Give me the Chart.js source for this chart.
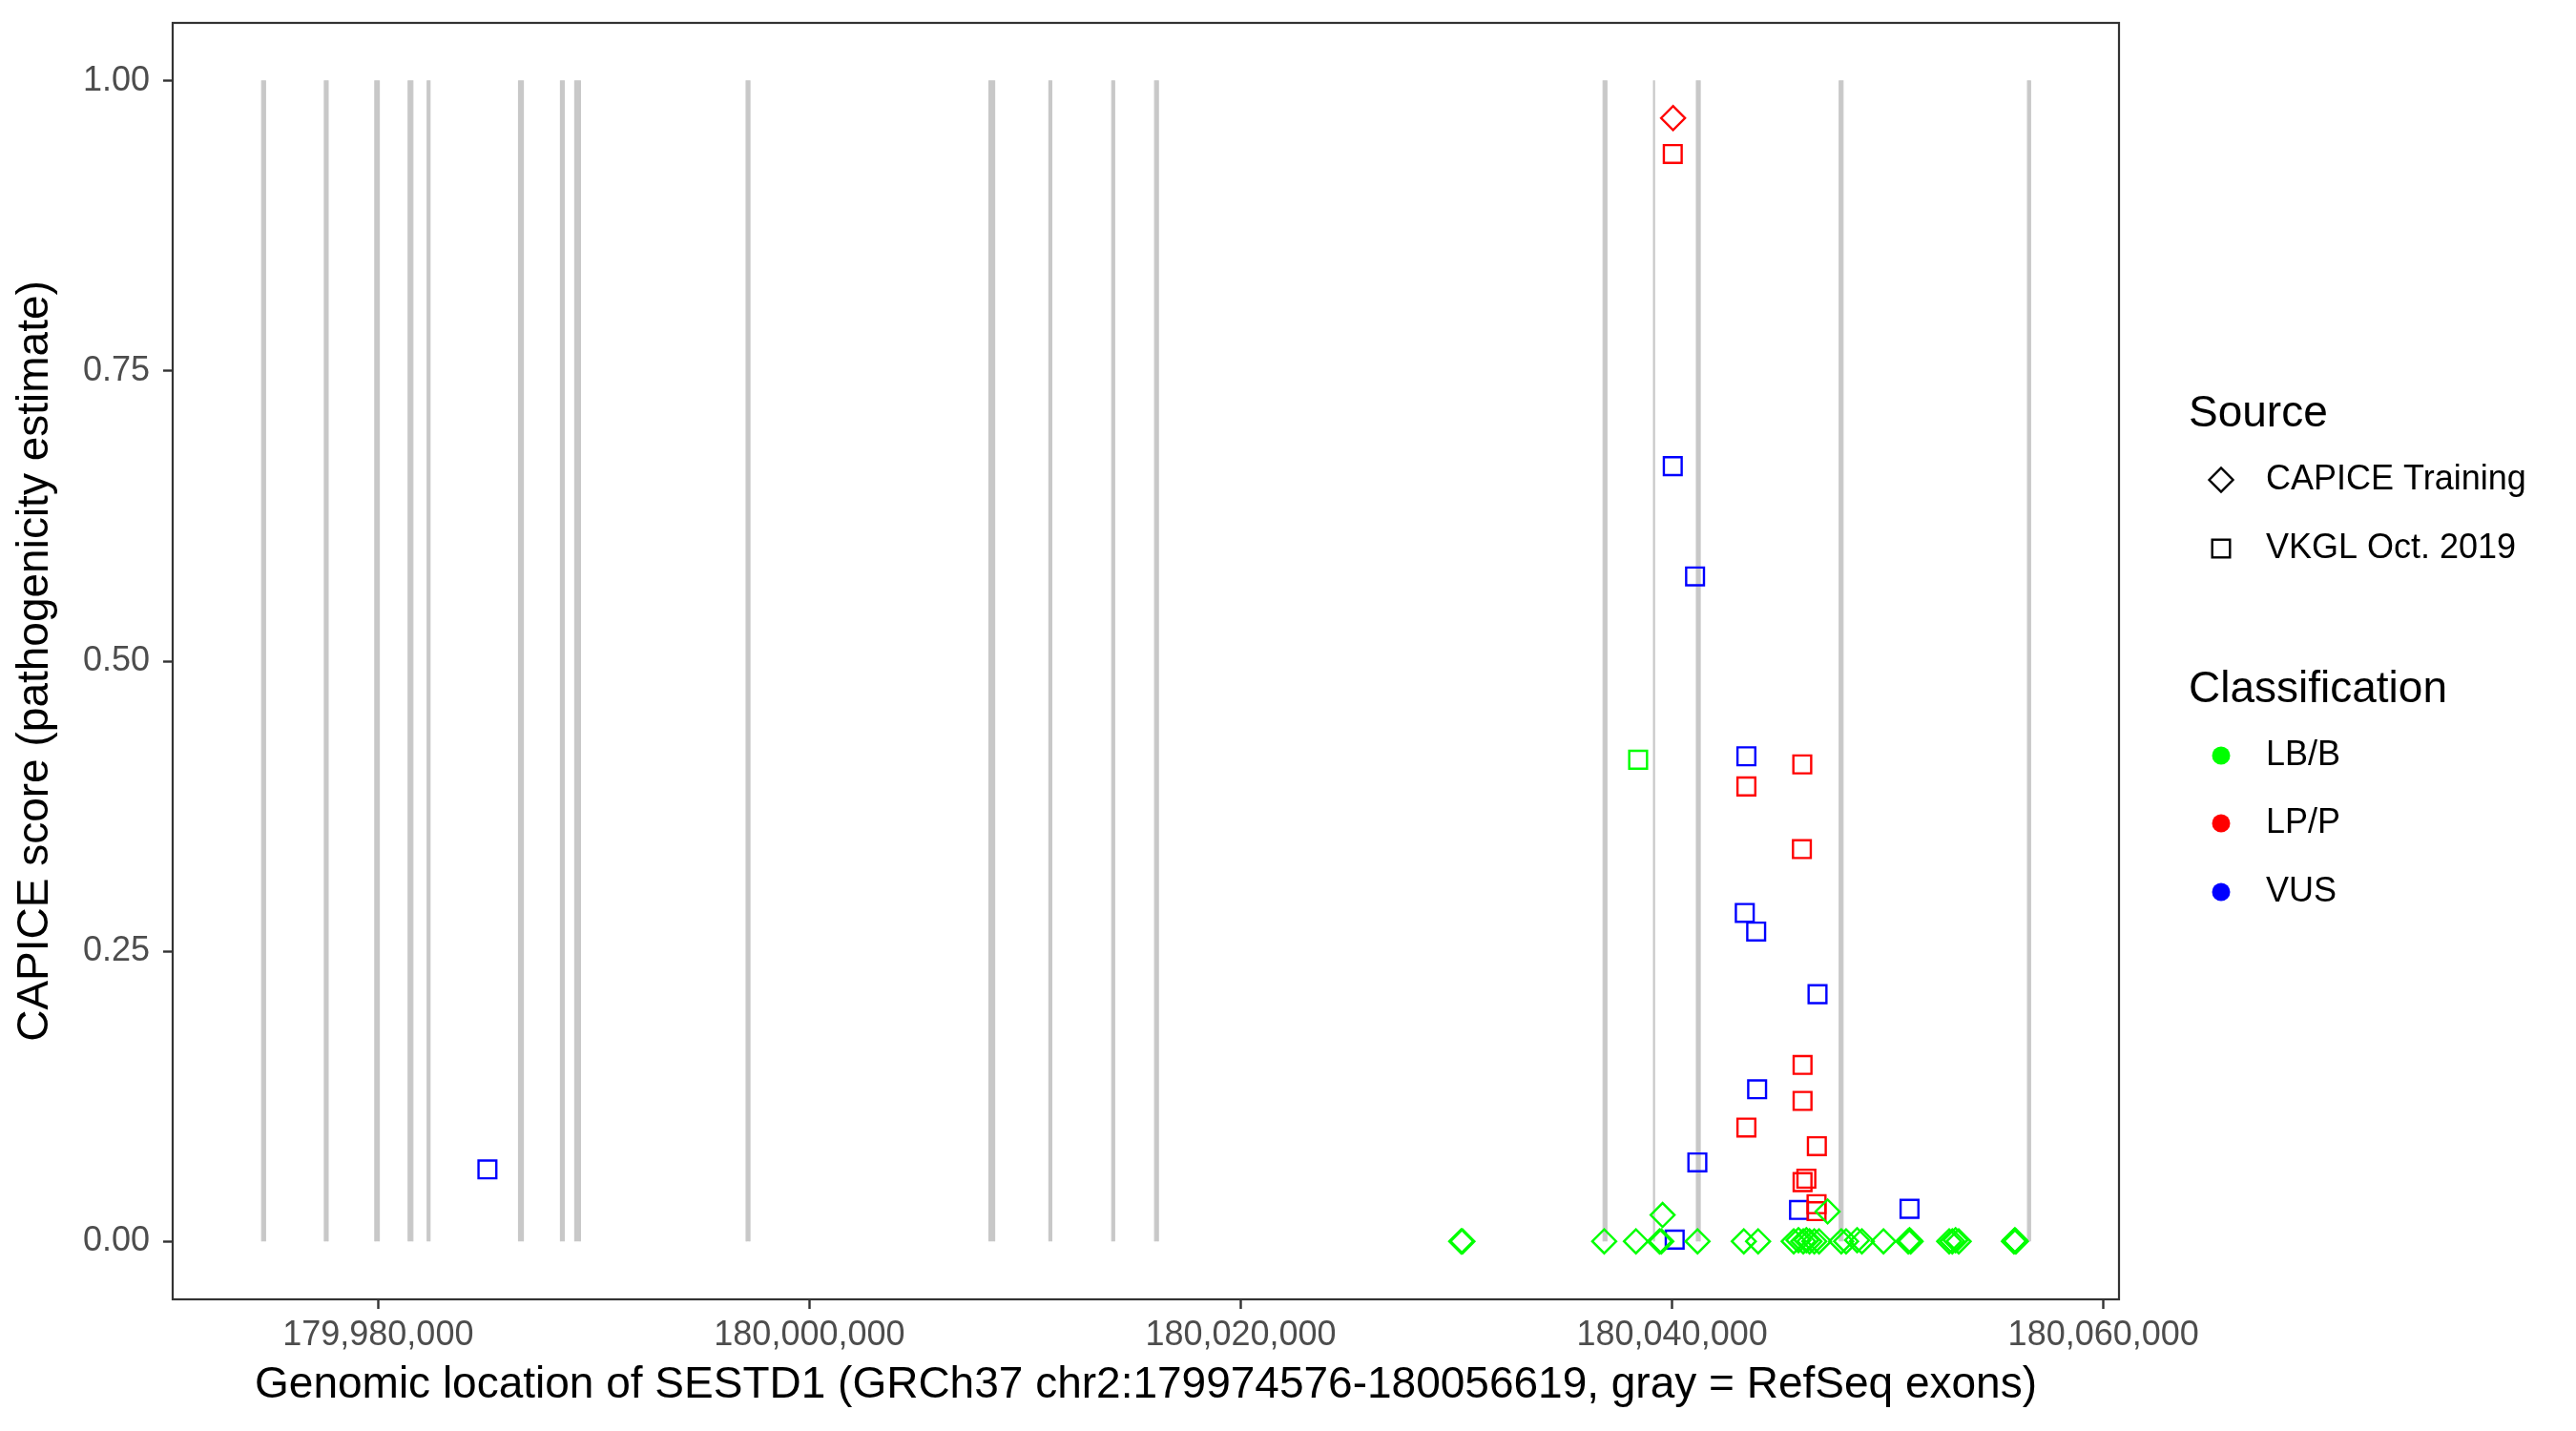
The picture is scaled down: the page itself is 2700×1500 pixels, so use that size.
<!DOCTYPE html>
<html>
<head>
<meta charset="utf-8">
<script src="https://cdn.jsdelivr.net/npm/chart.js@4.4.1/dist/chart.umd.min.js"></script>
<style>
html, body { margin: 0; padding: 0; background: #ffffff; }
#c { display: block; }
</style>
</head>
<body>
<canvas id="c" width="2700" height="1500" style="width:2700px;height:1500px"></canvas>
<script>
// ---------------- DATA ----------------
const xTickValues = [179980000, 180000000, 180020000, 180040000, 180060000];
const yTickValues = [0, 0.25, 0.5, 0.75, 1];

const xTitle = 'Genomic location of SESTD1 (GRCh37 chr2:179974576-180056619, gray = RefSeq exons)';
const yTitle = 'CAPICE score (pathogenicity estimate)';

const sourceTitle = 'Source';
const sourceLabels = ['CAPICE Training', 'VKGL Oct. 2019'];
const classTitle = 'Classification';
const classLabels = ['LB/B', 'LP/P', 'VUS'];

// RefSeq exons (start, end)
const exonStart = [179974600, 179977506, 179979845, 179981391, 179982274, 179986512, 179988455, 179989117, 179997064,
                   180008322, 180011104, 180014018, 180016004, 180036799, 180039139, 180041126, 180047748, 180056480];
const exonEnd   = [179974780, 179977682, 179980053, 179981611, 179982406, 179986733, 179988631, 179989382, 179997241,
                   180008587, 180011236, 180014150, 180016181, 180036976, 180039183, 180041302, 180047925, 180056619];

// CAPICE Training, LB/B
const capiceLBPos = [180030220, 180030280, 180036852, 180038322, 180039420, 180039500, 180041179, 180043324, 180043987,
                     180045638, 180045859, 180046080, 180046225, 180046371, 180046592, 180046812,
                     180047845, 180048066, 180048578, 180048799, 180049801, 180050950, 180051007, 180051060,
                     180052848, 180052993, 180053143, 180053289, 180055850, 180055894, 180055940,
                     180039558, 180047210];
const capiceLBScore = [0, 0, 0, 0, 0, 0, 0, 0, 0,
                       0, 0.001, 0, 0.001, 0, 0, 0,
                       0, 0, 0.001, 0, 0, 0, 0.001, 0,
                       0, 0, 0.001, 0, 0, 0.001, 0,
                       0.0227, 0.0257];
// CAPICE Training, LP/P
const capiceLPPos = [180040044];
const capiceLPScore = [0.968];
// VKGL, LB/B
const vkglLBPos = [180038424];
const vkglLBScore = [0.415];
// VKGL, LP/P
const vkglLPPos = [180040030, 180046035, 180043444, 180046017, 180046048, 180046048, 180043444, 180046711,
                   180046048, 180046225, 180046697, 180046697];
const vkglLPScore = [0.937, 0.411, 0.392, 0.338, 0.152, 0.121, 0.098, 0.082,
                     0.051, 0.054, 0.032, 0.026];
// VKGL, VUS
const vkglVUSPos = [179985068, 180040030, 180041064, 180043444, 180043369, 180043898, 180046742, 180043942,
                    180041170, 180045885, 180051007, 180040119];
const vkglVUSScore = [0.062, 0.668, 0.573, 0.418, 0.283, 0.267, 0.213, 0.131,
                      0.068, 0.027, 0.028, 0.0015];

// ---------------- STYLE ----------------
const FONT = "'Liberation Sans', Arial, Helvetica, sans-serif";
const COL_LB = '#00FF00';
const COL_LP = '#FF0000';
const COL_VUS = '#0000FF';
const EXON_COL = '#C8C8C8';

function pts(xs, ys) { return xs.map((x, i) => ({ x: x, y: ys[i] })); }

function scatterSet(label, xs, ys, color, shape) {
  return {
    type: 'scatter',
    label: label,
    data: pts(xs, ys),
    pointStyle: shape,
    pointRadius: shape === 'rect' ? 13.2 : 12.5,
    pointHoverRadius: shape === 'rect' ? 13.2 : 12.5,
    borderColor: color,
    backgroundColor: 'rgba(0,0,0,0)',
    pointBorderWidth: 2.4,
    borderWidth: 2.4,
    showLine: false,
    order: 1
  };
}

const exonSets = exonStart.map((s, i) => ({
  type: 'line',
  label: 'exon' + i,
  data: [{ x: s, y: 0 }, { x: s, y: 1 }, { x: exonEnd[i], y: 1 }, { x: exonEnd[i], y: 0 }],
  borderColor: EXON_COL,
  backgroundColor: EXON_COL,
  borderWidth: 1.2,
  fill: 'origin',
  pointRadius: 0,
  tension: 0,
  order: 10
}));

const pointSets = [
  scatterSet('CAPICE LB/B', capiceLBPos, capiceLBScore, COL_LB, 'rectRot'),
  scatterSet('CAPICE LP/P', capiceLPPos, capiceLPScore, COL_LP, 'rectRot'),
  scatterSet('VKGL LB/B', vkglLBPos, vkglLBScore, COL_LB, 'rect'),
  scatterSet('VKGL LP/P', vkglLPPos, vkglLPScore, COL_LP, 'rect'),
  scatterSet('VKGL VUS', vkglVUSPos, vkglVUSScore, COL_VUS, 'rect')
];

// panel border + ggplot-like legend
const ggPlugin = {
  id: 'ggExtras',
  afterDraw(chart) {
    const ctx = chart.ctx;
    const a = chart.chartArea;
    ctx.save();
    ctx.strokeStyle = '#333333';
    ctx.lineWidth = 2.2;
    ctx.strokeRect(a.left, a.top, a.right - a.left, a.bottom - a.top);

    ctx.fillStyle = '#000000';
    ctx.textBaseline = 'middle';
    ctx.textAlign = 'left';
    const titleX = 2294, keyX = 2328, textX = 2375;

    ctx.font = '46px ' + FONT;
    ctx.fillText(sourceTitle, titleX, 434);
    ctx.fillText(classTitle, titleX, 723);

    ctx.font = '36px ' + FONT;
    const srcY = [503, 575];
    sourceLabels.forEach((t, i) => ctx.fillText(t, textX, srcY[i]));
    const clsY = [792, 863, 935];
    classLabels.forEach((t, i) => ctx.fillText(t, textX, clsY[i]));

    // keys
    ctx.strokeStyle = '#000000';
    ctx.lineWidth = 2.4;
    const r = 12.5, yD = srcY[0];
    ctx.beginPath();
    ctx.moveTo(keyX - r, yD); ctx.lineTo(keyX, yD - r); ctx.lineTo(keyX + r, yD); ctx.lineTo(keyX, yD + r);
    ctx.closePath(); ctx.stroke();
    const h = 9.3, yS = srcY[1];
    ctx.strokeRect(keyX - h, yS - h, 2 * h, 2 * h);
    const cols = [COL_LB, COL_LP, COL_VUS];
    cols.forEach((c, i) => {
      ctx.fillStyle = c;
      ctx.beginPath();
      ctx.arc(keyX, clsY[i], 9.5, 0, Math.PI * 2);
      ctx.fill();
    });
    ctx.restore();
  }
};

new Chart(document.getElementById('c'), {
  type: 'scatter',
  data: { datasets: pointSets.concat(exonSets) },
  options: {
    responsive: false,
    devicePixelRatio: 1,
    animation: false,
    events: [],
    layout: { padding: { left: 0, right: 479, top: 24, bottom: 0 } },
    plugins: { legend: { display: false }, tooltip: { enabled: false } },
    scales: {
      x: {
        type: 'linear',
        min: 179970474,
        max: 180060721,
        afterBuildTicks: (scale) => { scale.ticks = xTickValues.map(v => ({ value: v })); },
        afterFit: (scale) => { scale.height = 138; scale.paddingLeft = 0; scale.paddingRight = 0; },
        ticks: {
          autoSkip: false,
          maxRotation: 0,
          minRotation: 0,
          padding: 6,
          color: '#4D4D4D',
          font: { family: FONT, size: 36, lineHeight: 1.2 },
          callback: (v) => Number(v).toLocaleString('en-US')
        },
        grid: { display: true, drawOnChartArea: false, drawTicks: true, tickLength: 10, tickWidth: 2.4, tickColor: '#333333' },
        border: { display: false },
        title: {
          display: true,
          text: xTitle,
          color: '#000000',
          font: { family: FONT, size: 46, lineHeight: 1.2 },
          padding: { top: 0, bottom: 20 }
        }
      },
      y: {
        type: 'linear',
        min: -0.05,
        max: 1.05,
        afterBuildTicks: (scale) => { scale.ticks = yTickValues.map(v => ({ value: v })); },
        afterFit: (scale) => { scale.width = 181; scale.paddingTop = 0; scale.paddingBottom = 0; },
        ticks: {
          padding: 14,
          color: '#4D4D4D',
          font: { family: FONT, size: 36, lineHeight: 1.2 },
          callback: (v) => Number(v).toFixed(2)
        },
        grid: { display: true, drawOnChartArea: false, drawTicks: true, tickLength: 10, tickWidth: 2.4, tickColor: '#333333' },
        border: { display: false },
        title: {
          display: true,
          text: yTitle,
          color: '#000000',
          font: { family: FONT, size: 46, lineHeight: 1.2 },
          padding: { top: 10, bottom: 0 }
        }
      }
    }
  },
  plugins: [ggPlugin]
});
</script>
</body>
</html>
